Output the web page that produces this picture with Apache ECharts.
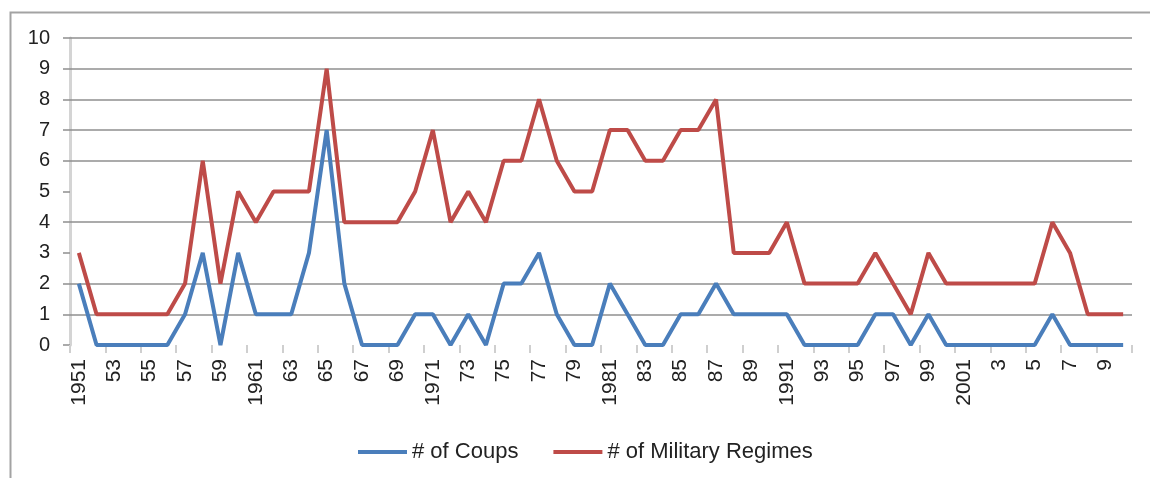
<!DOCTYPE html>
<html>
<head>
<meta charset="utf-8">
<script src="https://cdn.jsdelivr.net/npm/echarts@6/dist/echarts.min.js"></script>
<style>
  html, body { margin: 0; padding: 0; background: #fff; }
  #chart { width: 1150px; height: 478px; }
</style>
</head>
<body>
<div id="chart"></div>
<script>
// Categories as labelled in the source (every second one is shown on the axis)
const categories = [
  '1951','52','53','54','55','56','57','58','59','60',
  '1961','62','63','64','65','66','67','68','69','70',
  '1971','72','73','74','75','76','77','78','79','80',
  '1981','82','83','84','85','86','87','88','89','90',
  '1991','92','93','94','95','96','97','98','99','2000',
  '2001','2','3','4','5','6','7','8','9','10'
];
const coups = [
  2,0,0,0,0,0,1,3,0,3,
  1,1,1,3,7,2,0,0,0,1,
  1,0,1,0,2,2,3,1,0,0,
  2,1,0,0,1,1,2,1,1,1,
  1,0,0,0,0,1,1,0,1,0,
  0,0,0,0,0,1,0,0,0,0
];
const regimes = [
  3,1,1,1,1,1,2,6,2,5,
  4,5,5,5,9,4,4,4,4,5,
  7,4,5,4,6,6,8,6,5,5,
  7,7,6,6,7,7,8,3,3,3,
  4,2,2,2,2,3,2,1,3,2,
  2,2,2,2,2,4,3,1,1,1
];
const seriesNames = ['# of Coups', '# of Military Regimes'];
const yMin = 0, yMax = 10;
// horizontal gridlines that are visible in the reference (0, 3 and 5 are not drawn)
const gridValues = [1, 2, 4, 6, 7, 8, 9, 10];

const chart = echarts.init(document.getElementById('chart'), null, { renderer: 'canvas' });
const grid = '#8f8f8f';
const font = 'Liberation Sans, Arial, sans-serif';

chart.setOption({
  animation: false,
  backgroundColor: '#fff',
  textStyle: { fontFamily: font },
  graphic: [{
    type: 'rect',
    left: 8, top: 10,
    shape: { width: 1200, height: 520 },
    style: { fill: 'none', stroke: '#a3a3a3', lineWidth: 2 },
    silent: true
  }],
  grid: { left: 70, right: 18, top: 38, bottom: 133, containLabel: false },
  legend: {
    data: seriesNames.map(n => ({ name: n, icon: 'rect' })),
    left: 353,
    top: 436,
    itemWidth: 49,
    itemHeight: 4,
    itemGap: 35,
    textStyle: { fontSize: 22, color: '#222', fontFamily: font }
  },
  xAxis: {
    type: 'category',
    data: categories,
    boundaryGap: true,
    axisLine: { show: false },
    axisTick: { show: true, length: 8, inside: false, lineStyle: { color: '#cfcfcf', width: 2 } },
    axisLabel: {
      interval: 1,
      rotate: 90,
      margin: 14,
      fontSize: 21,
      color: '#222',
      fontFamily: font
    },
    splitLine: { show: false }
  },
  yAxis: {
    type: 'value',
    min: yMin,
    max: yMax,
    interval: 1,
    axisLine: { show: true, lineStyle: { color: '#d4d4d4', width: 3 } },
    axisTick: { show: true, length: 7, lineStyle: { color: grid, width: 1.5 } },
    axisLabel: { margin: 20, fontSize: 20, color: '#222', fontFamily: font },
    splitLine: { show: false }
  },
  series: [
    {
      name: seriesNames[0],
      type: 'line',
      data: coups,
      symbol: 'none',
      smooth: false,
      lineStyle: { color: '#4a7ebb', width: 4 },
      itemStyle: { color: '#4a7ebb' },
      z: 3,
      markLine: {
        silent: true,
        symbol: ['none', 'none'],
        label: { show: false },
        lineStyle: { color: grid, width: 1.5, type: 'solid' },
        emphasis: { disabled: true },
        z: 1,
        data: gridValues.map(v => ({ yAxis: v }))
      }
    },
    {
      name: seriesNames[1],
      type: 'line',
      data: regimes,
      symbol: 'none',
      smooth: false,
      lineStyle: { color: '#be4b48', width: 4 },
      itemStyle: { color: '#be4b48' },
      z: 2
    }
  ]
});
</script>
</body>
</html>
